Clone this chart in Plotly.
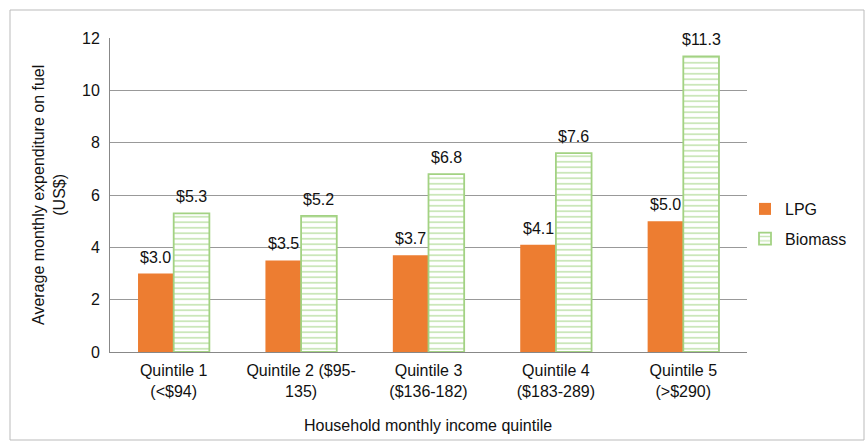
import plotly.graph_objects as go

categories = ["Quintile 1<br>(<$94)", "Quintile 2 ($95-<br>135)", "Quintile 3<br>($136-182)",
              "Quintile 4<br>($183-289)", "Quintile 5<br>(>$290)"]
lpg = [3.0, 3.5, 3.7, 4.1, 5.0]
biomass = [5.3, 5.2, 6.8, 7.6, 11.3]

W, H = 865, 441
L, R, T, B = 110, 118, 38, 89
pw, ph = W - L - R, H - T - B
BARGAP = 0.44
half_bar = pw / len(categories) * (1 - BARGAP) / 4  # half of one bar width in px

fig = go.Figure()
fig.add_trace(go.Bar(
    name="LPG", x=categories, y=lpg, legendgroup="a",
    marker=dict(color="#ED7D31", line=dict(width=0)),
))
fig.add_trace(go.Bar(
    name="Biomass", x=categories, y=biomass, legendgroup="b",
    marker=dict(color="white", line=dict(color="#A3D283", width=1.8),
                pattern=dict(shape="-", fgcolor="#92CC6E", bgcolor="white", size=5.5, solidity=0.32)),
))

annotations = []
for vals, sh in ((lpg, -half_bar), (biomass, half_bar)):
    for c, v in zip(categories, vals):
        annotations.append(dict(x=c, y=v, text=f"${v:.1f}", showarrow=False, xshift=sh,
                                yanchor="bottom", yshift=6, font=dict(size=16, color="#111")))

annotations += [
    dict(text="Average monthly expenditure on fuel<br>(US$)", textangle=-90,
         xref="paper", yref="paper", x=(49 - L) / pw, y=0.5, showarrow=False,
         xanchor="center", yanchor="middle", font=dict(size=16)),
    dict(text="Household monthly income quintile",
         xref="paper", yref="paper", x=(428 - L) / pw, y=-(425 - T - ph) / ph, showarrow=False,
         xanchor="center", yanchor="middle", font=dict(size=16)),
]

fig.update_layout(
    width=W, height=H,
    barmode="group", bargap=BARGAP, bargroupgap=0,
    plot_bgcolor="white", paper_bgcolor="white",
    font=dict(family="Liberation Sans, Arial, sans-serif", size=16, color="#111"),
    margin=dict(l=L, r=R, t=T, b=B, autoexpand=False),
    legend=dict(x=(745 - L) / pw, y=1 - (224 - T) / ph, yanchor="middle", xanchor="left",
                font=dict(size=16), itemwidth=30, tracegroupgap=6, traceorder="grouped",
                bgcolor="rgba(0,0,0,0)"),
    xaxis=dict(showline=True, linecolor="#888", linewidth=1, ticks="", automargin=False,
               tickfont=dict(size=16), ticklabelstandoff=4),
    yaxis=dict(range=[0, 12], dtick=2, showgrid=True, gridcolor="#999", gridwidth=1,
               showline=True, linecolor="#888", ticks="", zeroline=False, automargin=False,
               tickfont=dict(size=16), ticklabelstandoff=6),
    annotations=annotations,
    shapes=[dict(type="rect", xref="paper", yref="paper",
                 x0=(10 - L) / pw, y0=-(440 - T - ph) / ph, x1=(864 - L) / pw, y1=1 + (T - 10) / ph,
                 line=dict(color="#BBBBBB", width=1))],
)

fig.write_html("out.html", config={"displayModeBar": False},
               post_script="document.body.style.margin='0';document.body.style.overflow='hidden';")
